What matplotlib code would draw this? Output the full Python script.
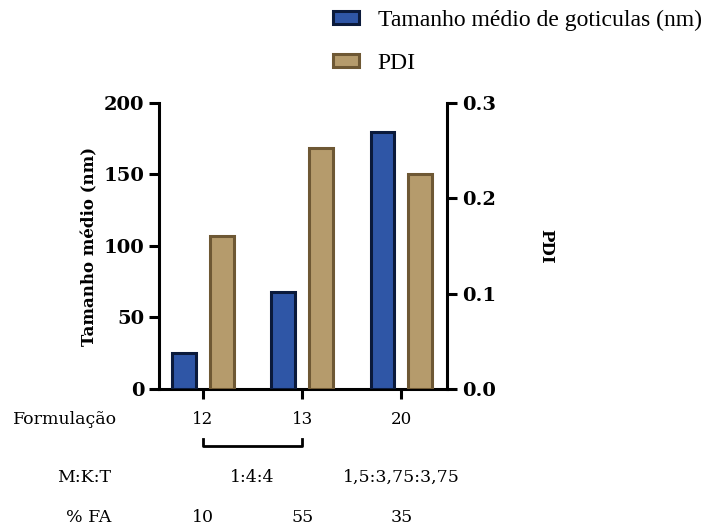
import numpy as np
import matplotlib.pyplot as plt
from matplotlib.patches import Patch

# data
formulas = ['12', '13', '20']
tamanho = [25, 68, 180]          # nm, left axis
pdi = [0.160, 0.253, 0.225]      # right axis
mkt_labels = ['1:4:4', '1,5:3,75:3,75']
fa_labels = ['10', '55', '35']

blue, blue_edge = '#2F56A6', '#0B1A3B'
tan, tan_edge = '#B59B6C', '#6E5834'
serif = 'DejaVu Serif'
plt.rcParams['font.family'] = serif

fig = plt.figure(figsize=(7.05, 5.26), dpi=100)
ax = fig.add_axes([0.2255, 0.2605, 0.4085, 0.5437])
ax2 = ax.twinx()

x = np.arange(len(formulas))
w = 0.24
off = 0.19
ax.bar(x - off, tamanho, w, color=blue, edgecolor=blue_edge, linewidth=2.2, zorder=3)
ax2.bar(x + off, pdi, w, color=tan, edgecolor=tan_edge, linewidth=2.2, zorder=3)

ax.set_xlim(-0.444, 2.46)
ax.set_ylim(0, 200)
ax2.set_ylim(0, 0.3)
ax.set_yticks([0, 50, 100, 150, 200])
ax2.set_yticks([0.0, 0.1, 0.2, 0.3])
ax2.set_yticklabels(['0.0', '0.1', '0.2', '0.3'])
ax.set_xticks(x)
ax.set_xticklabels(formulas)

for a in (ax, ax2):
    a.spines['top'].set_visible(False)
    for s in ('left', 'right', 'bottom'):
        a.spines[s].set_linewidth(2.2)
    a.tick_params(width=2.2, length=7, labelsize=14)
    for lab in a.get_yticklabels():
        lab.set_fontweight('bold')
ax.spines['right'].set_visible(False)
ax2.spines['left'].set_visible(False)
ax2.spines['bottom'].set_visible(False)
ax.tick_params(axis='x', pad=9, labelsize=12)
ax2.tick_params(axis='y', pad=4)

ax.set_ylabel('Tamanho médio (nm)', fontsize=12, fontweight='bold', labelpad=4)
ax2.set_ylabel('PDI', fontsize=12, fontweight='bold', rotation=270, labelpad=42)

# rows of labels under the axis
tr = ax.get_xaxis_transform()
fs = 12.5
ax.text(-1.394, -0.105, 'Formulação', transform=tr, ha='center', va='center', fontsize=12.5, clip_on=False)
ax.plot([0, 0, 1, 1], [-0.175, -0.2, -0.2, -0.175], transform=tr, color='black', lw=2, clip_on=False)
ax.text(-1.202, -0.308, 'M:K:T', transform=tr, ha='center', va='center', fontsize=fs, clip_on=False)
ax.text(0.5, -0.308, mkt_labels[0], transform=tr, ha='center', va='center', fontsize=fs, clip_on=False)
ax.text(2, -0.308, mkt_labels[1], transform=tr, ha='center', va='center', fontsize=fs, clip_on=False)
ax.text(-1.152, -0.451, '% FA', transform=tr, ha='center', va='center', fontsize=fs, clip_on=False)
for i, t in enumerate(fa_labels):
    ax.text(x[i], -0.451, t, transform=tr, ha='center', va='center', fontsize=fs, clip_on=False)

handles = [Patch(facecolor=blue, edgecolor=blue_edge, linewidth=2.2),
           Patch(facecolor=tan, edgecolor=tan_edge, linewidth=2.2)]
fig.legend(handles, ['Tamanho médio de goticulas (nm)', 'PDI'],
           loc='upper left', bbox_to_anchor=(0.472, 0.982), frameon=False,
           borderpad=0, borderaxespad=0,
           prop={'family': 'Liberation Serif', 'size': 17},
           handlelength=1.1, handleheight=0.5, handletextpad=0.8, labelspacing=0.95)

fig.savefig('out.png', dpi=100)
